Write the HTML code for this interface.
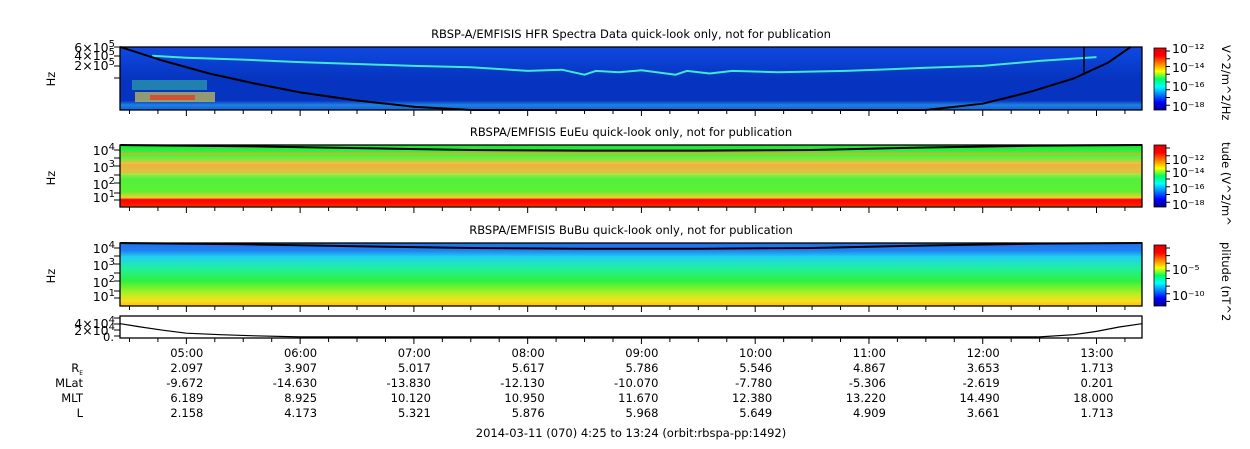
<!DOCTYPE html>
<html><head><meta charset="utf-8"><style>
body{margin:0;background:#fff;width:1250px;height:449px;overflow:hidden}
svg{display:block;font-family:"DejaVu Sans","Liberation Sans",sans-serif;font-size:11.5px}
</style></head><body>
<svg id="chart" width="1250" height="449">
<defs>
<linearGradient id="jet" x1="0" y1="1" x2="0" y2="0">
<stop offset="0" stop-color="#00008f"/><stop offset="0.125" stop-color="#0000ff"/><stop offset="0.375" stop-color="#00ffff"/><stop offset="0.5" stop-color="#00ff60"/><stop offset="0.625" stop-color="#ffff00"/><stop offset="0.875" stop-color="#ff0000"/><stop offset="1" stop-color="#e00000"/>
</linearGradient>
<linearGradient id="g1" x1="0" y1="0" x2="0" y2="1">
<stop offset="0" stop-color="#1048e0"/><stop offset="0.15" stop-color="#0c44d8"/><stop offset="0.5" stop-color="#0634c0"/><stop offset="0.85" stop-color="#0634c0"/><stop offset="0.92" stop-color="#2080e0"/><stop offset="1" stop-color="#1060e0"/>
</linearGradient>
<linearGradient id="g2" x1="0" y1="0" x2="0" y2="1">
<stop offset="0" stop-color="#20e030"/><stop offset="0.1" stop-color="#30f040"/><stop offset="0.2" stop-color="#60f040"/><stop offset="0.3" stop-color="#f0c040"/><stop offset="0.42" stop-color="#d8e040"/><stop offset="0.55" stop-color="#50f040"/><stop offset="0.75" stop-color="#60f030"/><stop offset="0.85" stop-color="#f0d030"/><stop offset="0.88" stop-color="#ff0000"/><stop offset="0.98" stop-color="#ff2000"/><stop offset="1" stop-color="#f8f020"/>
</linearGradient>
<linearGradient id="g3" x1="0" y1="0" x2="0" y2="1">
<stop offset="0" stop-color="#2070f0"/><stop offset="0.12" stop-color="#2080f0"/><stop offset="0.22" stop-color="#20d0f0"/><stop offset="0.4" stop-color="#20f0a0"/><stop offset="0.6" stop-color="#30f040"/><stop offset="0.8" stop-color="#b0f020"/><stop offset="0.92" stop-color="#f8e020"/><stop offset="1" stop-color="#f8c010"/>
</linearGradient>
</defs>
<g id="layer"></g>
</svg>
<script>
// time axis (hours)
const tStart = 4 + 25/60, tEnd = 13 + 24/60;
const majorHours = [5,6,7,8,9,10,11,12,13];
const majorLabels = ["05:00","06:00","07:00","08:00","09:00","10:00","11:00","12:00","13:00"];
const reVals = ["2.097","3.907","5.017","5.617","5.786","5.546","4.867","3.653","1.713"];
const mlatVals = ["-9.672","-14.630","-13.830","-12.130","-10.070","-7.780","-5.306","-2.619","0.201"];
const mltVals = ["6.189","8.925","10.120","10.950","11.670","12.380","13.220","14.490","18.000"];
const lVals = ["2.158","4.173","5.321","5.876","5.968","5.649","4.909","3.661","1.713"];
// black curve in HFR panel (fraction of panel height from top)
const hfrCurveT = [4.42,4.8,5.2,5.6,6.0,6.5,7.0,7.5,11.5,12.0,12.4,12.8,13.1,13.3];
const hfrCurveV = [0.0,0.22,0.42,0.58,0.72,0.85,0.95,1.0,1.0,0.9,0.72,0.5,0.25,0.0];
// upper-hybrid line (fraction of panel height)
const uhrT = [4.7,5.0,5.5,6.0,6.5,7.0,7.5,8.0,8.3,8.5,8.6,8.8,9.0,9.3,9.4,9.6,9.8,10.2,10.8,11.5,12.0,12.5,13.0];
const uhrV = [0.14,0.17,0.2,0.24,0.27,0.3,0.32,0.38,0.36,0.44,0.38,0.4,0.37,0.44,0.38,0.42,0.38,0.4,0.38,0.33,0.3,0.22,0.16];
// EuEu / BuBu black curve (fraction)
const euT = [4.42,5.5,6.5,7.5,8.5,9.5,10.5,11.5,12.5,13.4];
const euV = [0.0,0.02,0.05,0.08,0.09,0.09,0.08,0.04,0.01,0.0];
// ephemeris panel (fraction)
const ephT = [4.42,4.6,4.8,5.0,5.3,5.6,6.0,12.5,12.8,13.0,13.2,13.4];
const ephV = [0.35,0.5,0.65,0.78,0.85,0.9,0.95,0.95,0.85,0.7,0.5,0.35];

const X0=120,X1=1142;
const x = t => X0 + (t - tStart)/(tEnd - tStart)*(X1-X0);
const NS="http://www.w3.org/2000/svg";
const L=document.getElementById('layer');
function el(tag,attrs,parent){const e=document.createElementNS(NS,tag);for(const k in attrs)e.setAttribute(k,attrs[k]);(parent||L).appendChild(e);return e;}
function txt(s,xx,yy,anchor,extra){const e=el('text',Object.assign({x:xx,y:yy,'text-anchor':anchor||'start',fill:'#000'},extra||{}));e.textContent=s;return e;}

const panels=[
 {y0:47,y1:110,fill:'url(#g1)',title:'RBSP-A/EMFISIS  HFR Spectra Data quick-look only, not for publication',name:'hfr-panel'},
 {y0:145,y1:207,fill:'url(#g2)',title:'RBSPA/EMFISIS  EuEu quick-look only, not for publication',name:'eueu-panel'},
 {y0:243,y1:306,fill:'url(#g3)',title:'RBSPA/EMFISIS  BuBu quick-look only, not for publication',name:'bubu-panel'},
 {y0:316,y1:338,fill:'#fff',title:null,name:'ephemeris-panel'}
];
panels.forEach((p,i)=>{
  const g=el('g',{});
  
  
  el('rect',{x:X0,y:p.y0,width:X1-X0,height:p.y1-p.y0,fill:p.fill},g);
  if(i===1){ // orange band
    el('rect',{x:X0,y:p.y0+19,width:X1-X0,height:9,fill:'#f0a040',opacity:0.5},g);
    el('rect',{x:X0,y:p.y0+8,width:X1-X0,height:1.5,fill:'#f8a020'},g);
  }
  if(i===0){
    el('rect',{x:X0+12,y:p.y0+33,width:75,height:10,fill:'#40e0a0',opacity:0.45},g);
    el('rect',{x:X0+15,y:p.y0+45,width:80,height:10,fill:'#f0e040',opacity:0.6},g);
    el('rect',{x:X0+30,y:p.y0+48,width:45,height:5,fill:'#f03020',opacity:0.7},g);
  }
  if(p.title){const t=txt(p.title,631,p.y0-9,'middle');}
  const ax=p.y1;
  majorHours.forEach(h=>{el('line',{x1:x(h),x2:x(h),y1:ax,y2:ax+6,stroke:'#000'},g);});
  for(let m=tStart*4;m<=tEnd*4;m++){const t=Math.ceil(m)/4;if(t>=tStart&&t<=tEnd&&t%1!==0)el('line',{x1:x(t),x2:x(t),y1:ax,y2:ax+4,stroke:'#000'},g);}
  el('rect',{x:X0,y:p.y0,width:X1-X0,height:p.y1-p.y0,fill:'none',stroke:'#000','stroke-width':1.3},g);
});
function poly(ts,vs,p,stroke,w){
  const pts=ts.map((t,i)=>x(t).toFixed(1)+','+(p.y0+vs[i]*(p.y1-p.y0)).toFixed(1)).join(' ');
  return el('polyline',{points:pts,fill:'none',stroke:stroke,'stroke-width':w});
}
let e;
e=poly(uhrT,uhrV,panels[0],'#40e8d0',2);


e=poly(hfrCurveT,hfrCurveV,panels[0],'#000',2);


el('line',{x1:1084,x2:1084,y1:47,y2:73,stroke:'#000','stroke-width':1.5});
e=poly(euT,euV,panels[1],'#000',2);


e=poly(euT,euV,panels[2],'#000',2);


e=poly(ephT,ephV,panels[3],'#000',1.2);



// y-axis labels
function ylab(s,sup,yy){const t=el('text',{x:115,y:yy,'text-anchor':'end',fill:'#000','font-size':'12.5'});t.innerHTML=s+'<tspan dy="-5" font-size="10">'+sup+'</tspan>';}
ylab('6×10','5',52);ylab('4×10','5',60);ylab('2×10','5',70);
ylab('10','4',155);ylab('10','3',172);ylab('10','2',189);ylab('10','1',202);
ylab('10','4',253);ylab('10','3',270);ylab('10','2',287);ylab('10','1',301);
ylab('4×10','4',328);ylab('2×10','4',335);
[[47,56,66,78],[150,158,166,175,183,193,200],[248,256,264,273,281,291,298],[318,324,330,336]].forEach(a=>a.forEach(yy=>el('line',{x1:114,x2:120,y1:yy,y2:yy,stroke:'#000'})));
txt('0.',114,341,'end');
[[55,79],[55,178],[55,276]].forEach(([xx,yy])=>{const t=txt('Hz',xx,yy,'middle',{transform:`rotate(-90 ${xx} ${yy})`});});

// colorbars
[[48,110,['10⁻¹²','10⁻¹⁴','10⁻¹⁶','10⁻¹⁸'],[49,68,87,107],'V^2/m^2/Hz'],[145,207,['10⁻¹²','10⁻¹⁴','10⁻¹⁶','10⁻¹⁸'],[160,173,189,205],'tude (V^2/m^'],[245,306,['10⁻⁵','10⁻¹⁰'],[270,296],'plitude (nT^2']].forEach(([a,b,labs,ys,title],i)=>{
  const g=el('g',{});
  
  
  el('rect',{x:1154,y:a,width:12,height:b-a,fill:'url(#jet)'},g);
  el('rect',{x:1154,y:a,width:12,height:b-a,fill:'none',stroke:'#000','stroke-width':0.8},g);
  for(let yy=a+3;yy<b;yy+=(b-a)/8)el('line',{x1:1166,x2:1170,y1:yy,y2:yy,stroke:'#000'},g);
  labs.forEach((s,k)=>{const t=el('text',{x:1172,y:ys[k]+4,fill:'#000','font-size':'12.5'},g);t.textContent=s;});
  const t=el('text',{x:1222,y:a-3,fill:'#000',transform:`rotate(90 1222 ${a-3})`},g);t.textContent=title;
});

// bottom ephemeris labels
const rows=[[majorLabels,357,null],[reVals,372,'R'],[mlatVals,387,'MLat'],[mltVals,402,'MLT'],[lVals,417,'L']];
rows.forEach(([vals,yy,lab])=>{
  if(lab){const t=txt(lab,83,yy,'end');if(lab==='R'){t.innerHTML='R<tspan font-size="6" dy="3">E</tspan>';}}
  vals.forEach((v,k)=>{const t=txt(v,x(majorHours[k])+17,yy,'end');});
});
const f=txt('2014-03-11 (070) 4:25 to 13:24 (orbit:rbspa-pp:1492)',631,437,'middle');


</script>
</body></html>
